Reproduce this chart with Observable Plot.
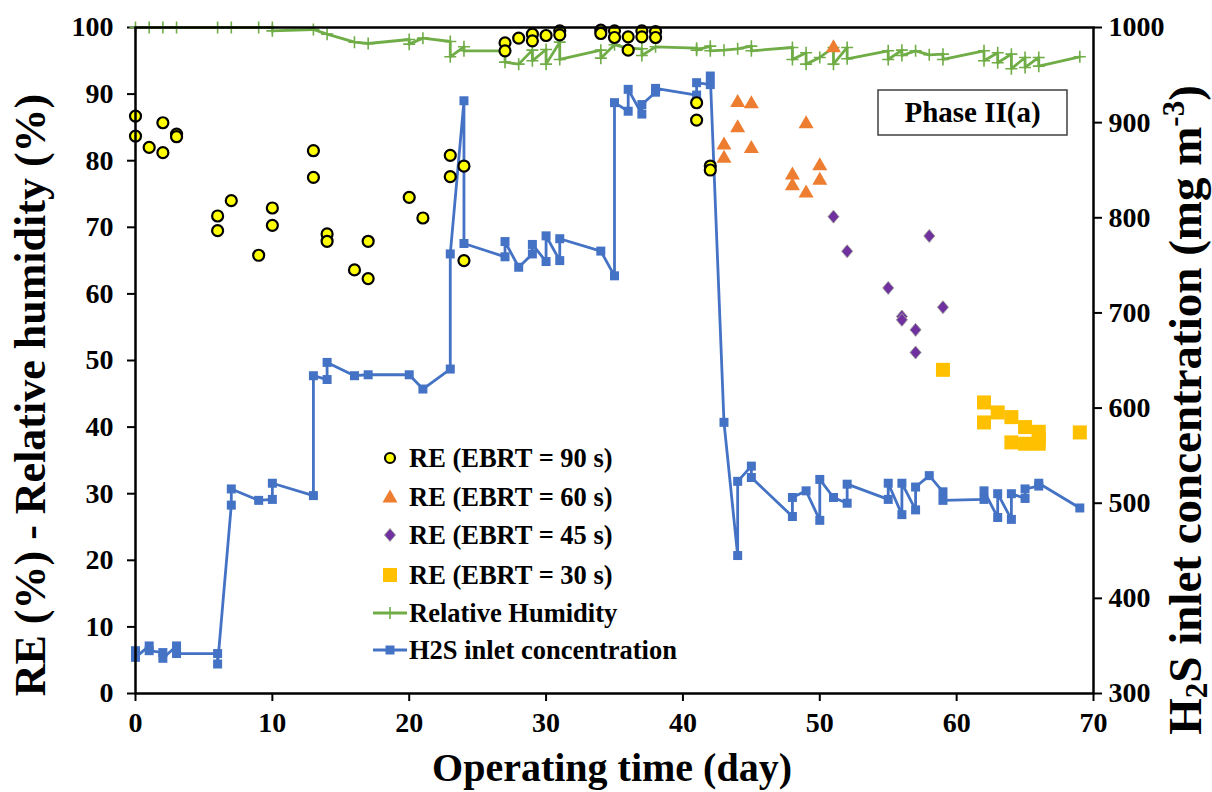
<!DOCTYPE html>
<html><head><meta charset="utf-8">
<script src="https://cdn.jsdelivr.net/npm/d3@7"></script>
<script src="https://cdn.jsdelivr.net/npm/@observablehq/plot@0.6"></script>
<style>body{margin:0;background:#fff}#chart{width:1212px;height:792px}</style>
</head><body><div id="chart"></div>
<script>
// ---- data (day, value) ----
const re90 = [[0,86.7],[0,83.7],[1,82.0],[2,85.7],[2,81.2],[3,84.0],[3,83.6],[6,71.7],[6,69.5],[7,74.0],[9,65.8],[10,72.9],[10,70.3],[13,81.5],[13,77.5],[14,69.0],[14,67.9],[16,63.6],[17,67.9],[17,62.3],[20,74.5],[21,71.4],[23,80.8],[23,77.6],[24,79.2],[24,65.0],[27,97.7],[27,96.5],[28,98.4],[29,99.0],[29,98.0],[30,98.8],[31,99.5],[31,98.9],[34,99.6],[34,99.1],[35,99.5],[35,98.5],[36,98.6],[36,96.6],[37,99.5],[37,98.6],[38,99.4],[38,98.5],[41,88.7],[41,86.1],[42,79.2],[42,78.6]];
const re60 = [[43,82.5],[43,80.5],[44,88.9],[44,85.1],[45,88.7],[45,82.0],[48,78.0],[48,76.4],[49,85.7],[49,75.3],[50,79.4],[50,77.2],[51,97.1]];
const re45 = [[51,71.6],[52,66.4],[55,60.9],[56,56.6],[56,56.1],[57,54.6],[57,51.2],[58,68.7],[59,58.0]];
const re30 = [[59,48.6],[62,43.7],[62,40.7],[63,42.2],[64,41.5],[64,37.7],[65,40.0],[65,37.5],[66,39.3],[66,38.3],[66,37.5],[69,39.2]];
const relHumidity = [[0,100],[1,100],[2,100],[3,100],[6,100],[7,100],[9,100],[10,100],[10,99.5],[13,99.7],[14,99.0],[16,97.8],[17,97.6],[20,98.2],[20,97.5],[21,98.4],[23,97.9],[23,95.6],[24,97.1],[24,96.5],[27,96.5],[27,94.8],[28,94.5],[29,96.6],[29,95.0],[30,96.7],[30,94.5],[31,97.8],[31,95.2],[34,96.6],[34,95.4],[35,97.4],[36,96.9],[37,96.8],[37,95.8],[38,97.1],[41,96.9],[41,96.6],[42,97.2],[42,96.5],[43,96.6],[44,96.8],[45,97.2],[45,96.5],[48,97.0],[48,95.2],[49,96.2],[49,94.5],[50,95.5],[51,97.0],[51,94.5],[52,97.0],[52,95.3],[55,96.5],[55,95.2],[56,96.6],[56,95.8],[57,96.5],[58,95.9],[59,96.0],[59,95.2],[62,96.5],[62,95.0],[63,96.2],[63,94.7],[64,96.0],[64,93.8],[65,95.5],[65,94.0],[66,95.5],[66,94.2],[69,95.6]];
const h2sInlet = [[0,345],[0,338],[1,350],[1,345],[2,343],[2,337],[3,350],[3,342],[6,342],[6,331],[7,498],[7,515],[9,503],[10,504],[10,521],[13,508],[13,634],[14,630],[14,648],[16,634],[17,635],[20,635],[21,620],[23,641],[23,762],[24,923],[24,773],[27,759],[27,775],[28,748],[29,762],[29,772],[30,754],[30,781],[31,755],[31,778],[34,765],[35,739],[35,921],[36,912],[36,935],[37,909],[37,919],[38,932],[38,936],[41,929],[41,942],[42,940],[42,949],[43,585],[44,445],[44,523],[45,539],[45,527],[48,486],[48,506],[49,513],[50,482],[50,525],[51,506],[52,500],[52,520],[55,504],[55,521],[56,488],[56,521],[57,493],[57,517],[58,529],[59,512],[59,503],[62,504],[62,513],[63,485],[63,510],[64,483],[64,510],[65,505],[65,515],[66,518],[66,521],[69,495]];
const xTicks = [0,10,20,30,40,50,60,70];
const yTicks = [0,10,20,30,40,50,60,70,80,90,100];
const rightTicks = [300,400,500,600,700,800,900,1000];
const legendLabels = ["RE (EBRT = 90 s)","RE (EBRT = 60 s)","RE (EBRT = 45 s)","RE (EBRT = 30 s)","Relative Humidity","H2S inlet concentration"];
const phaseLabel = "Phase II(a)";

// ---- helpers ----
const C = {green:"#70AD47", blue:"#4472C4", orange:"#ED7D31", purple:"#7030A0", yellow:"#FFFF00", gold:"#FFC000"};
const FONT = "'Liberation Serif','Times New Roman',Times,serif";
const toPct = c => (c - 300) / 7;   // right axis 300..1000 -> 0..100
const plusSym = {draw(ctx){const r=6;ctx.moveTo(-r,0);ctx.lineTo(r,0);ctx.moveTo(0,-r);ctx.lineTo(0,r);}};
const squareSym = s => ({draw(ctx){ctx.rect(-s/2,-s/2,s,s);}});
const triSym = {draw(ctx){ctx.moveTo(0,-7.5);ctx.lineTo(7.5,5.5);ctx.lineTo(-7.5,5.5);ctx.closePath();}};
const rhombSym = {draw(ctx){ctx.moveTo(0,-6.5);ctx.lineTo(5.5,0);ctx.lineTo(0,6.5);ctx.lineTo(-5.5,0);ctx.closePath();}};
const X = d => d[0], Y = d => d[1];

const chart = Plot.plot({
  width: 1212, height: 792,
  marginLeft: 135, marginRight: 119, marginTop: 27, marginBottom: 99,
  x: {domain: [0, 70]},
  y: {domain: [0, 100]},
  style: {fontFamily: FONT, fontWeight: "bold", fontSize: "28px", color: "black", background: "white", overflow: "visible"},
  marks: [
    Plot.axisX(xTicks, {tickSize: 8, tickPadding: 11, label: null, strokeWidth: 2}),
    Plot.axisY(yTicks, {anchor: "left", tickSize: 8, tickPadding: 14, label: null, strokeWidth: 2}),
    Plot.axisY(rightTicks.map(toPct), {anchor: "right", tickSize: 8, tickPadding: 7, label: null, strokeWidth: 2, tickFormat: d => String(Math.round(d * 7 + 300))}),
    Plot.line(relHumidity, {x: X, y: Y, stroke: C.green, strokeWidth: 2.8}),
    Plot.dot(relHumidity, {x: X, y: Y, symbol: plusSym, stroke: C.green, strokeWidth: 1.6, fill: "none"}),
    Plot.line(h2sInlet, {x: X, y: d => toPct(d[1]), stroke: C.blue, strokeWidth: 2.8}),
    Plot.dot(h2sInlet, {x: X, y: d => toPct(d[1]), symbol: squareSym(9), fill: C.blue, stroke: "none"}),
    Plot.dot(re90, {x: X, y: Y, symbol: "circle", r: 5.5, fill: C.yellow, stroke: "black", strokeWidth: 2.2}),
    Plot.dot(re60, {x: X, y: Y, symbol: triSym, fill: C.orange, stroke: "none"}),
    Plot.dot(re45, {x: X, y: Y, symbol: rhombSym, fill: C.purple, stroke: "#9a9a9a", strokeWidth: 1}),
    Plot.dot(re30, {x: X, y: Y, symbol: squareSym(14), fill: C.gold, stroke: "none"}),
    Plot.frame({stroke: "black", strokeWidth: 2.5})
  ]
});
document.getElementById("chart").appendChild(chart);

// ---- labels, legend, annotation ----
const svg = d3.select(chart);
const txt = (sel) => sel.attr("font-family", FONT).attr("font-weight", "bold").attr("fill", "black");

txt(svg.append("text")).attr("transform", "translate(45,395) rotate(-90)").attr("text-anchor", "middle")
  .attr("font-size", 44).text("RE (%) - Relative humidity (%)");
txt(svg.append("text")).attr("x", 612).attr("y", 781).attr("text-anchor", "middle")
  .attr("font-size", 40).text("Operating time (day)");
const rl = txt(svg.append("text")).attr("transform", "translate(1201,410) rotate(-90)").attr("text-anchor", "middle").attr("font-size", 47);
rl.append("tspan").text("H");
rl.append("tspan").attr("font-size", 31).attr("dy", 6).text("2");
rl.append("tspan").attr("dy", -6).text("S inlet concentration (mg m");
rl.append("tspan").attr("font-size", 31).attr("dy", -17).text("-3");
rl.append("tspan").attr("dy", 17).text(")");

// legend
const lg = svg.append("g");
const ly = [458, 497, 535, 575, 613, 650];
const legendSyms = [
  {p: d3.symbol().type(d3.symbolCircle).size(Math.PI*25)(), fill: C.yellow, stroke: "black", sw: 2.2},
  {p: d3.symbol().type(triSym)(), fill: C.orange, stroke: "none"},
  {p: d3.symbol().type(rhombSym)(), fill: C.purple, stroke: "#9a9a9a", sw: 1},
  {p: d3.symbol().type(squareSym(14))(), fill: C.gold, stroke: "none"},
  {line: C.green, p: d3.symbol().type(plusSym)(), fill: "none", stroke: C.green, sw: 1.6},
  {line: C.blue, p: d3.symbol().type(squareSym(9))(), fill: C.blue, stroke: "none"}
];
legendSyms.forEach((s, i) => {
  const g = lg.append("g").attr("transform", `translate(390,${ly[i]})`);
  if (s.line) g.append("line").attr("x1", -17).attr("x2", 17).attr("stroke", s.line).attr("stroke-width", 2.8);
  g.append("path").attr("d", s.p).attr("fill", s.fill).attr("stroke", s.stroke).attr("stroke-width", s.sw || 0);
  txt(lg.append("text")).attr("x", 409).attr("y", ly[i] + 9).attr("text-anchor", "start").attr("font-size", 26.5).text(legendLabels[i]);
});

// Phase box
svg.append("rect").attr("x", 878).attr("y", 90).attr("width", 189).attr("height", 45)
  .attr("fill", "white").attr("stroke", "#404040").attr("stroke-width", 1.5);
txt(svg.append("text")).attr("x", 972.5).attr("y", 122).attr("text-anchor", "middle").attr("font-size", 29).text(phaseLabel);
</script></body></html>
